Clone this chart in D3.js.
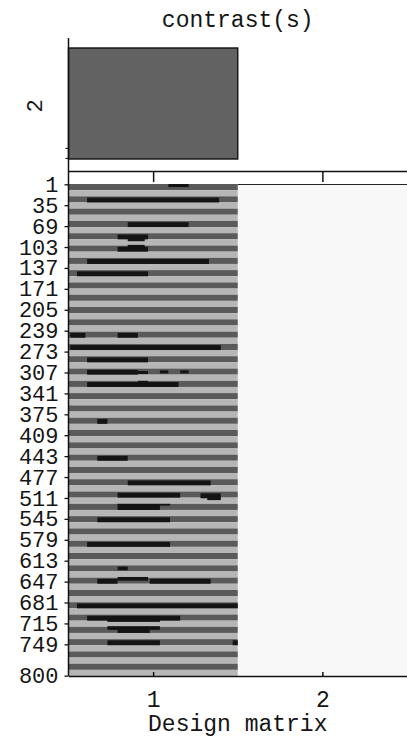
<!DOCTYPE html>
<html>
<head>
<meta charset="utf-8">
<script src="https://cdn.jsdelivr.net/npm/d3@7"></script>
<style>
  body { margin: 0; background: #fff; }
  text { font-family: "Liberation Mono", "DejaVu Sans Mono", monospace; fill: #151515; }
</style>
</head>
<body>
<div id="chart"></div>
<script>
// design matrix + contrast, scanned SPM style figure

var width = 407, height = 740;

// column 1: boxcar, one value per block of 10 scans (0 = off / dark, 1 = on / light)
var blockLen = 10;
var blockValues = [0,1,0,1,0,1,0,1,0,1, 0,1,0,1,0,1,0,1,0,1,
                   0,1,0,1,0,1,0,1,0,1, 0,1,0,1,0,1,0,1,0,1,
                   0,1,0,1,0,1,0,1,0,1, 0,1,0,1,0,1,0,1,0,1,
                   0,1,0,1,0,1,0,1,0,1, 0,1,0,1,0,1,0,1,0,1];

var nScans = 800;
var columns = [1, 2];
var contrastValues = [1, 0];
var contrastLabel = "2";
var rowTicks = [1,35,69,103,137,171,205,239,273,307,341,375,409,443,477,511,545,579,613,647,681,715,749,800];

// black marks over column 1 (scan rows, column units)
var segStart = [1, 23, 63, 83, 89, 103, 100, 123, 143, 243, 243, 263, 283, 303, 305, 304, 304, 323, 321,
                383, 443, 483, 503, 504, 511, 523, 521, 543, 583, 623, 643, 643, 640, 683, 703, 705, 723, 720, 743, 743];
var segEnd   = [5, 30, 70, 90, 93, 110, 104, 130, 150, 250, 250, 270, 290, 310, 309, 308, 308, 330, 324,
                390, 450, 490, 510, 511, 514, 530, 523, 550, 590, 628, 650, 650, 645, 690, 710, 712, 730, 725, 750, 750];
var segX0    = [1.09, 0.61, 0.85, 0.79, 0.85, 0.79, 0.85, 0.61, 0.55, 0.51, 0.79, 0.51, 0.61, 0.61, 0.91, 1.04, 1.16, 0.61, 0.91,
                0.67, 0.67, 0.85, 0.79, 1.28, 1.32, 0.79, 0.79, 0.67, 0.61, 0.79, 0.67, 0.98, 0.79, 0.55, 0.61, 0.73, 0.79, 0.73, 0.73, 1.47];
var segX1    = [1.21, 1.39, 1.21, 0.97, 0.95, 0.97, 0.95, 1.33, 0.97, 0.60, 0.91, 1.40, 0.97, 0.91, 0.97, 1.09, 1.21, 1.15, 0.97,
                0.73, 0.85, 1.34, 1.16, 1.40, 1.40, 1.04, 1.10, 1.10, 1.10, 0.85, 0.79, 1.34, 0.97, 1.50, 1.16, 1.04, 0.98, 1.04, 1.04, 1.50];

var svg = d3.select("#chart").append("svg")
  .attr("width", width)
  .attr("height", height);

var x = d3.scaleLinear().domain([0.5, 2.5]).range([68.5, 407]);
var y = d3.scaleLinear().domain([0.5, nScans + 0.5]).range([184, 676]);
var yC = d3.scaleLinear().domain([0, 1]).range([159, 48]);
var gray = d3.scaleLinear().domain([0, 1]).range(["#5a5a5a", "#b6b6b6"]);

// ---- contrast panel
svg.append("text")
  .attr("x", x(1.5)).attr("y", 27)
  .attr("text-anchor", "middle")
  .style("font-size", "23px")
  .text("contrast(s)");

svg.append("g").selectAll("rect")
  .data(contrastValues)
  .enter()
  .append("rect")
    .attr("x", function(d, i) { return x(columns[i] - 0.5); })
    .attr("width", function(d, i) { return x(columns[i] + 0.5) - x(columns[i] - 0.5); })
    .attr("y", function(d) { return yC(Math.max(d, 0)); })
    .attr("height", function(d) { return Math.abs(yC(0) - yC(d)); })
    .style("fill", "#626262")
    .style("stroke", "#111")
    .style("stroke-width", 1.4);

svg.append("line")
  .attr("x1", 68.5).attr("x2", 68.5)
  .attr("y1", 38).attr("y2", 171)
  .attr("stroke", "#111").attr("stroke-width", 1.5);

svg.append("g")
  .attr("transform", "translate(68.5,0)")
  .call(d3.axisLeft(yC).tickValues([0.1, 0.01]).tickSize(3).tickFormat(""))
  .call(function(g) { g.select(".domain").remove(); });

svg.append("text")
  .attr("transform", "translate(34,106) rotate(-90)")
  .attr("text-anchor", "middle")
  .attr("dy", "0.35em")
  .style("font-size", "22px")
  .text(contrastLabel);

// ---- design matrix
svg.append("rect")
  .attr("x", x(1.5)).attr("y", y(0.5))
  .attr("width", x(2.5) - x(1.5)).attr("height", y(nScans + 0.5) - y(0.5))
  .style("fill", "#f8f8f8");

svg.append("g").selectAll("rect")
  .data(blockValues)
  .enter()
  .append("rect")
    .attr("x", x(0.5))
    .attr("width", x(1.5) - x(0.5))
    .attr("y", function(d, i) { return y(i * blockLen + 0.5); })
    .attr("height", function(d, i) { return y((i + 1) * blockLen + 0.5) - y(i * blockLen + 0.5); })
    .style("fill", function(d) { return gray(d); });

svg.append("g").selectAll("rect")
  .data(segStart)
  .enter()
  .append("rect")
    .attr("x", function(d, i) { return x(segX0[i]); })
    .attr("width", function(d, i) { return x(segX1[i]) - x(segX0[i]); })
    .attr("y", function(d) { return y(d - 0.5); })
    .attr("height", function(d, i) { return y(segEnd[i] + 0.5) - y(d - 0.5); })
    .style("fill", "#141414");

// top edge of the white column
svg.append("line")
  .attr("x1", x(1.5)).attr("x2", width)
  .attr("y1", 184.5).attr("y2", 184.5)
  .attr("stroke", "#222").attr("stroke-width", 1.2);

// top axis (ticks only)
svg.append("g")
  .attr("transform", "translate(0,171)")
  .call(d3.axisTop(x).tickValues(columns).tickSizeInner(-11).tickSizeOuter(0).tickFormat(""))
  .call(function(g) { g.selectAll("line, path").attr("stroke", "#111").attr("stroke-width", 1.5); });

// left axis with scan numbers
var yAxis = svg.append("g")
  .attr("transform", "translate(68.5,0)")
  .call(d3.axisLeft(y).tickValues(rowTicks).tickSize(4).tickPadding(6))
  .call(function(g) { g.select(".domain").remove(); });
yAxis.selectAll("line").attr("stroke", "#111").attr("stroke-width", 1.3);
yAxis.selectAll("text")
  .style("font-size", "22px")
  .style("font-family", "Liberation Mono, monospace")
  .attr("fill", "#151515");

svg.append("line")
  .attr("x1", 68.5).attr("x2", 68.5)
  .attr("y1", 171).attr("y2", 676)
  .attr("stroke", "#111").attr("stroke-width", 1.5);

// bottom axis
var xAxis = svg.append("g")
  .attr("transform", "translate(0,676)")
  .call(d3.axisBottom(x).tickValues(columns).tickSizeInner(-4).tickSizeOuter(0).tickPadding(15).tickFormat(d3.format("d")));
xAxis.selectAll("line, path").attr("stroke", "#111").attr("stroke-width", 1.5);
xAxis.selectAll("text")
  .style("font-size", "23px")
  .style("font-family", "Liberation Mono, monospace")
  .attr("fill", "#151515");

svg.append("text")
  .attr("x", x(1.5)).attr("y", 731)
  .attr("text-anchor", "middle")
  .style("font-size", "23px")
  .text("Design matrix");
</script>
</body>
</html>
